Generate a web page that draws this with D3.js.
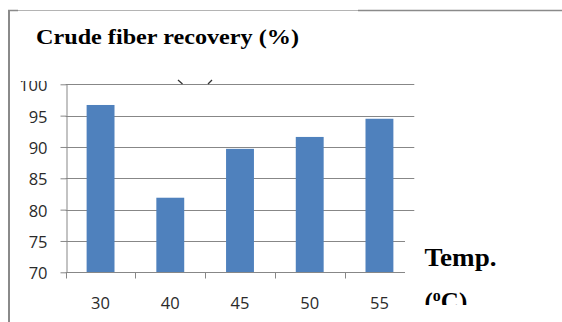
<!DOCTYPE html>
<html>
<head>
<meta charset="utf-8">
<script src="https://cdn.jsdelivr.net/npm/d3@7/dist/d3.min.js"></script>
<style>
  html, body { margin: 0; padding: 0; background: #fff; }
  svg { display: block; }
</style>
</head>
<body>
<svg id="chart" width="562" height="322"></svg>
<script>
// Crude fiber recovery by extraction temperature
const temperatures = ["30", "40", "45", "50", "55"];
const recovery = [96.7, 81.9, 89.7, 91.6, 94.5];
const yTicks = [70, 75, 80, 85, 90, 95, 100];

const svg = d3.select("#chart");
const W = 562, H = 322;
const plot = { left: 65.7, right: 414.3, top: 84.3, bottom: 272.3 };

const gridColor = "#878787";
const barColor = "#4f81bd";
const labelFont = "'Open Sans', 'DejaVu Sans', sans-serif";

// frame of the figure
svg.append("line").attr("x1", 9).attr("x2", 9).attr("y1", 10).attr("y2", H)
  .attr("stroke", "#8a8a8a").attr("stroke-width", 2);
svg.append("line").attr("x1", 8).attr("x2", 18).attr("y1", 10.5).attr("y2", 10.5)
  .attr("stroke", "#8a8a8a").attr("stroke-width", 1.5);
svg.append("line").attr("x1", 18).attr("x2", 358).attr("y1", 10.5).attr("y2", 10.5)
  .attr("stroke", "#b4b4b4").attr("stroke-width", 1.2);
svg.append("line").attr("x1", 358).attr("x2", W).attr("y1", 10.5).attr("y2", 10.5)
  .attr("stroke", "#8a8a8a").attr("stroke-width", 1.6);

const x = d3.scaleBand()
  .domain(temperatures)
  .range([plot.left, plot.right])
  .paddingInner(0.6)
  .paddingOuter(0.3);

const y = d3.scaleLinear()
  .domain([70, 100])
  .range([plot.bottom, plot.top]);

const defs = svg.append("defs");
defs.append("clipPath").attr("id", "clipTop")
  .append("rect").attr("x", 0).attr("y", 81).attr("width", W).attr("height", H - 81);

// horizontal gridlines
svg.append("g")
  .selectAll("line")
  .data(yTicks.filter(d => d > 70))
  .join("line")
  .attr("x1", plot.left).attr("x2", plot.right)
  .attr("y1", d => Math.round(y(d)) + 0.5).attr("y2", d => Math.round(y(d)) + 0.5)
  .attr("stroke", gridColor).attr("stroke-width", 1);

// bars
svg.append("g")
  .selectAll("rect")
  .data(temperatures.map((t, i) => ({ t, v: recovery[i] })))
  .join("rect")
  .attr("x", d => x(d.t))
  .attr("width", x.bandwidth())
  .attr("y", d => y(d.v))
  .attr("height", d => y(70) - y(d.v))
  .attr("fill", barColor);

// y axis (the wrapper carries the clip so the labels keep page coordinates)
const yAxis = svg.append("g")
  .attr("clip-path", "url(#clipTop)")
  .append("g")
  .attr("transform", `translate(${Math.round(plot.left) + 0.5},0)`)
  .call(d3.axisLeft(y).tickValues(yTicks).tickSize(6).tickPadding(13).tickSizeOuter(0));
yAxis.select(".domain").attr("stroke", gridColor);
yAxis.selectAll(".tick line").attr("stroke", gridColor);
yAxis.selectAll(".tick text")
  .attr("fill", "#2a2a2a").attr("font-family", labelFont).attr("font-size", 16.5)
  .attr("dy", "0.4em");

// x axis: ticks sit on the category boundaries
const xAxis = svg.append("g")
  .attr("transform", `translate(0,${Math.round(plot.bottom) + 0.5})`);
xAxis.append("line")
  .attr("x1", plot.left).attr("x2", plot.right)
  .attr("stroke", gridColor);
const boundaries = temperatures.map(t => x(t) - x.step() * x.paddingInner() / 2);
xAxis.selectAll("line.tk")
  .data(boundaries)
  .join("line").attr("class", "tk")
  .attr("x1", d => Math.round(d) + 0.5).attr("x2", d => Math.round(d) + 0.5)
  .attr("y1", 0).attr("y2", 6)
  .attr("stroke", gridColor);
xAxis.selectAll("text")
  .data(temperatures)
  .join("text")
  .attr("x", d => x(d) + x.bandwidth() / 2)
  .attr("y", 36)
  .attr("text-anchor", "middle")
  .attr("fill", "#2a2a2a").attr("font-family", labelFont).attr("font-size", 16.5)
  .text(d => d);

// remnants of a glyph peeking above the plot
svg.append("path").attr("d", "M178,80 L182.5,84 M208,84 L212,80")
  .attr("stroke", "#333").attr("stroke-width", 1.3).attr("fill", "none");

// chart title
svg.append("text")
  .attr("x", 36).attr("y", 43.5)
  .attr("font-family", "'Liberation Serif', 'Times New Roman', serif").attr("font-weight", "bold")
  .attr("font-size", 21)
  .attr("textLength", 263).attr("lengthAdjust", "spacingAndGlyphs")
  .attr("fill", "#000")
  .text("Crude fiber recovery (%)");

// axis title box
defs.append("clipPath").attr("id", "clipUnit")
  .append("rect").attr("x", 400).attr("y", 220).attr("width", 162).attr("height", 85);
const unit = svg.append("g").attr("clip-path", "url(#clipUnit)");
unit.append("rect").attr("x", 405).attr("y", 222).attr("width", 157).attr("height", 83).attr("fill", "#fff");
unit.append("text")
  .attr("x", 424.5).attr("y", 265.5)
  .attr("font-family", "'Liberation Serif', 'Times New Roman', serif").attr("font-weight", "bold")
  .attr("font-size", 25)
  .attr("textLength", 72).attr("lengthAdjust", "spacingAndGlyphs")
  .attr("fill", "#000")
  .text("Temp.");
const u2 = unit.append("text")
  .attr("x", 424.5).attr("y", 310)
  .attr("font-family", "'Liberation Serif', 'Times New Roman', serif").attr("font-weight", "bold")
  .attr("font-size", 25)
  .attr("fill", "#000");
u2.append("tspan").text("(");
u2.append("tspan").attr("font-size", 16).attr("dy", -9).text("o");
u2.append("tspan").attr("dy", 9).text("C)");
</script>
</body>
</html>
